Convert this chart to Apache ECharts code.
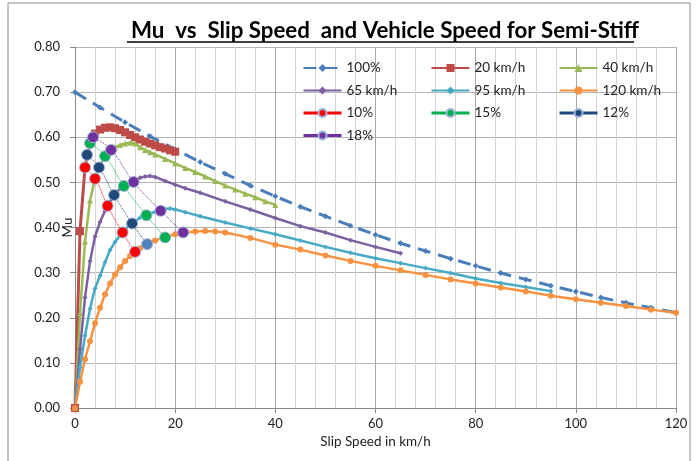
<!DOCTYPE html>
<html>
<head>
<meta charset="utf-8">
<script src="https://cdn.jsdelivr.net/npm/echarts@6/dist/echarts.min.js"></script>
<style>
  html, body { margin: 0; padding: 0; background: #fff; }
  #main { width: 698px; height: 461px; }
</style>
</head>
<body>
<div id="main"></div>
<script>
// slip speed (km/h), mu
const slip100 = [[0,0.700],[5,0.666],[10,0.633],[15,0.602],[20,0.573],[25,0.545],[30,0.519],[35,0.493],[40,0.469],[45,0.446],[50,0.425],[55,0.404],[60,0.384],[65,0.365],[70,0.348],[75,0.331],[80,0.315],[85,0.299],[90,0.285],[95,0.271],[100,0.258],[105,0.245],[110,0.233],[115,0.222],[120,0.211]];
const v20 = [[0,0],[1,0.392],[2,0.533],[3,0.587],[4,0.608],[5,0.617],[6,0.621],[7,0.622],[8,0.620],[9,0.616],[10,0.611],[11,0.605],[12,0.600],[13,0.595],[14,0.590],[15,0.586],[16,0.582],[17,0.578],[18,0.575],[19,0.571],[20,0.568]];
const v40 = [[0,0],[1,0.210],[2,0.369],[3,0.460],[4,0.508],[5,0.538],[6,0.558],[7,0.570],[8,0.578],[9,0.583],[10,0.586],[11,0.588],[12,0.586],[13,0.578],[14,0.572],[15,0.567],[16,0.562],[18,0.552],[20,0.542],[22,0.532],[24,0.523],[26,0.513],[28,0.503],[30,0.493],[32,0.484],[34,0.475],[36,0.467],[38,0.458],[40,0.450]];
const v65 = [[0,0],[1,0.130],[2,0.245],[3,0.325],[4,0.380],[5,0.412],[6,0.437],[7,0.457],[8,0.474],[9,0.486],[10,0.495],[11,0.500],[12,0.505],[13,0.510],[14,0.513],[15,0.514],[16,0.512],[18,0.503],[20,0.495],[22,0.487],[25,0.477],[30,0.458],[35,0.440],[40,0.421],[45,0.403],[50,0.389],[55,0.372],[60,0.357],[65,0.343]];
const v95 = [[0,0],[1,0.090],[2,0.160],[3,0.220],[4,0.265],[5,0.293],[6,0.323],[7,0.350],[8,0.368],[9,0.383],[10,0.396],[11,0.406],[12,0.414],[13,0.422],[14,0.427],[15,0.431],[16,0.435],[17,0.438],[18,0.441],[19,0.442],[20,0.440],[22,0.434],[25,0.425],[30,0.411],[35,0.398],[40,0.385],[45,0.371],[50,0.357],[55,0.344],[60,0.332],[65,0.321],[70,0.310],[75,0.299],[80,0.287],[85,0.277],[90,0.268],[95,0.259]];
const v120 = [[0,0],[1,0.058],[2,0.108],[3,0.148],[4,0.188],[5,0.222],[6,0.252],[7,0.276],[8,0.296],[9,0.312],[10,0.326],[11,0.337],[12,0.346],[13,0.354],[14,0.361],[15,0.366],[16,0.371],[18,0.379],[20,0.385],[22,0.389],[24,0.391],[26,0.392],[28,0.391],[30,0.389],[35,0.377],[40,0.362],[45,0.351],[50,0.338],[55,0.326],[60,0.315],[65,0.305],[70,0.295],[75,0.285],[80,0.276],[85,0.267],[90,0.258],[95,0.249],[100,0.241],[105,0.233],[110,0.226],[115,0.218],[120,0.211]];
// constant slip ratio points (20, 40, 65, 95, 120 km/h)
const slip10 = [[2,0.533],[4,0.508],[6.5,0.448],[9.5,0.389],[12,0.346]];
const slip12 = [[2.4,0.561],[4.8,0.533],[7.8,0.472],[11.4,0.409],[14.4,0.363]];
const slip15 = [[3,0.587],[6,0.558],[9.75,0.492],[14.25,0.427],[18,0.378]];
const slip18 = [[3.6,0.600],[7.2,0.572],[11.7,0.501],[17.1,0.437],[21.6,0.389]];

const font = 'Lato, "Open Sans", sans-serif';

function curve(name, data, color, symbol, size, width) {
  return {
    name: name, type: 'line', data: data,
    symbol: symbol, symbolSize: size, showSymbol: true,
    lineStyle: { color: color, width: width },
    itemStyle: { color: color },
    animation: false
  };
}
function ratio(name, data, color) {
  return {
    name: name, type: 'line', data: data, z: 5,
    symbol: 'circle', symbolSize: 11, smooth: true,
    lineStyle: { color: color, width: 1, type: 'dotted' },
    itemStyle: { color: color, borderColor: '#9fb3d8', borderWidth: 1 },
    animation: false
  };
}

const s12 = ratio('12%', slip12, '#1F497D');
s12.data = slip12.map((p, i) => i === 4 ? { value: p, itemStyle: { color: '#4F81BD' } } : p);

const solid = { type: 'solid', width: 3 };
const legendBase = {
  orient: 'vertical', top: 56, itemWidth: 38, itemHeight: 10, itemGap: 8.5,
  textStyle: { fontFamily: font, fontSize: 13.5, color: '#222' }
};

const chart = echarts.init(document.getElementById('main'));
chart.setOption({
  backgroundColor: '#fff',
  title: {
    text: 'Mu  vs  Slip Speed  and Vehicle Speed for Semi-Stiff',
    left: 380, top: 15, textAlign: 'center',
    textStyle: { fontFamily: font, fontSize: 22.3, fontWeight: 'bold', color: '#000' }
  },
  graphic: [
    { type: 'line', shape: { x1: 127, y1: 42, x2: 634, y2: 42 }, style: { stroke: '#000', lineWidth: 1.5 } },
    { type: 'rect', shape: { x: 8, y: 3, width: 682, height: 470 }, style: { fill: 'none', stroke: '#8c8c8c', lineWidth: 1 } }
  ],
  legend: [
    Object.assign({ left: 297, data: ['100%', '65 km/h', { name: '10%', lineStyle: solid }, { name: '18%', lineStyle: solid }] }, legendBase),
    Object.assign({ left: 425, data: ['20 km/h', '95 km/h', { name: '15%', lineStyle: solid }] }, legendBase),
    Object.assign({ left: 553, data: ['40 km/h', '120 km/h', { name: '12%', lineStyle: solid }] }, legendBase)
  ],
  grid: { left: 75, right: 22, top: 47, bottom: 53 },
  xAxis: {
    type: 'value', min: 0, max: 120, interval: 20,
    name: 'Slip Speed in km/h', nameLocation: 'middle', nameGap: 27,
    nameTextStyle: { fontFamily: font, fontSize: 13.5, color: '#222' },
    axisLine: { show: true, onZero: false, lineStyle: { color: '#888' } },
    axisTick: { show: true, length: 5, lineStyle: { color: '#888' } },
    axisLabel: { fontFamily: font, fontSize: 13, color: '#222', margin: 9 },
    splitLine: { show: true, lineStyle: { color: '#a6a6a6' } },
    minorTick: { show: false, splitNumber: 5 },
    minorSplitLine: { show: true, lineStyle: { color: '#d4d4d4' } }
  },
  yAxis: {
    type: 'value', min: 0, max: 0.8, interval: 0.1,
    name: 'Mu', nameLocation: 'middle', nameGap: 0, nameRotate: 90, nameMoveOverlap: false,
    nameTextStyle: { fontFamily: font, fontSize: 13.5, color: '#222' },
    axisLine: { show: true, lineStyle: { color: '#888' } },
    axisTick: { show: true, length: 5, lineStyle: { color: '#888' } },
    axisLabel: { fontFamily: font, fontSize: 13, color: '#222', margin: 15, formatter: v => v.toFixed(2) },
    splitLine: { show: true, lineStyle: { color: '#b4b4b4' } }
  },
  series: [
    {
      name: '100%', type: 'line', data: slip100, symbol: 'diamond', symbolSize: 6,
      lineStyle: { color: '#4A7EBB', width: 3, type: [13, 8] },
      itemStyle: { color: '#4A7EBB' }, animation: false
    },
    curve('20 km/h', v20, '#BE4B48', 'rect', 8, 3),
    curve('40 km/h', v40, '#98B954', 'triangle', 6, 2.5),
    curve('65 km/h', v65, '#7D60A0', 'diamond', 5, 2.5),
    curve('95 km/h', v95, '#46AAC5', 'diamond', 5, 2.5),
    curve('120 km/h', v120, '#F69240', 'circle', 6, 2.5),
    ratio('10%', slip10, '#FF0000'),
    ratio('15%', slip15, '#00B050'),
    s12,
    ratio('18%', slip18, '#7030A0')
  ]
});
</script>
</body>
</html>
